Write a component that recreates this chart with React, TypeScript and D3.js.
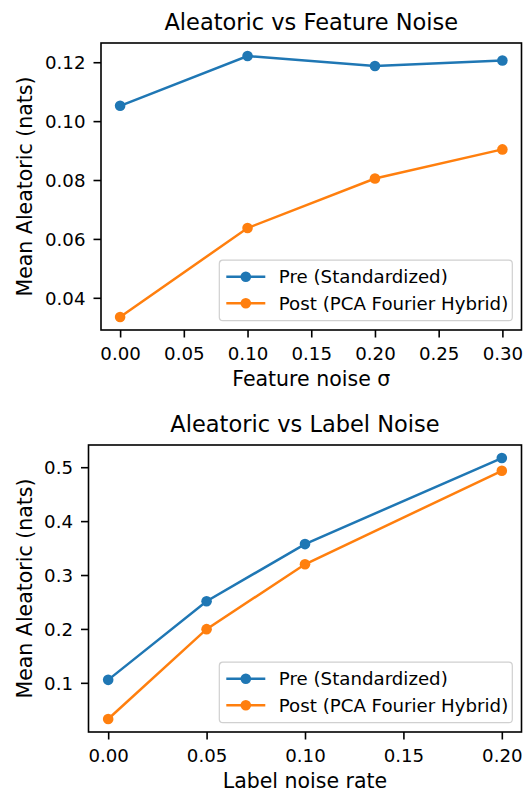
import React, { useEffect, useRef } from "react";
import * as d3 from "d3";

// Feature-noise sweep
const featureNoise = [0, 0.1, 0.2, 0.3];
const featurePre = [0.1052, 0.1221, 0.1187, 0.1206];
const featurePost = [0.0335, 0.0637, 0.0805, 0.0904];
const featureXTicks = [0, 0.05, 0.1, 0.15, 0.2, 0.25, 0.3];
const featureYTicks = [0.04, 0.06, 0.08, 0.1, 0.12];

// Label-noise sweep
const labelNoise = [0, 0.05, 0.1, 0.2];
const labelPre = [0.1055, 0.2514, 0.3574, 0.517];
const labelPost = [0.033, 0.1996, 0.3199, 0.4933];
const labelXTicks = [0, 0.05, 0.1, 0.15, 0.2];
const labelYTicks = [0.1, 0.2, 0.3, 0.4, 0.5];

const seriesNames = ["Pre (Standardized)", "Post (PCA Fourier Hybrid)"];
const seriesColors = ["#1f77b4", "#ff7f0e"];

const FONT = "DejaVu Sans, sans-serif";
const TICK_FS = 18.2;
const LABEL_FS = 20.5;
const TITLE_FS = 22.5;

type PanelSpec = {
  title: string;
  xLabel: string;
  x: number[];
  series: number[][];
  xTicks: number[];
  yTicks: number[];
  xFmt: string;
  yFmt: string;
  box: { left: number; right: number; top: number; bottom: number };
};

const panels: PanelSpec[] = [
  {
    title: "Aleatoric vs Feature Noise",
    xLabel: "Feature noise σ",
    x: featureNoise,
    series: [featurePre, featurePost],
    xTicks: featureXTicks,
    yTicks: featureYTicks,
    xFmt: ".2f",
    yFmt: ".2f",
    box: { left: 101, right: 521.5, top: 43, bottom: 330 },
  },
  {
    title: "Aleatoric vs Label Noise",
    xLabel: "Label noise rate",
    x: labelNoise,
    series: [labelPre, labelPost],
    xTicks: labelXTicks,
    yTicks: labelYTicks,
    xFmt: ".2f",
    yFmt: ".1f",
    box: { left: 88.5, right: 521.5, top: 445, bottom: 732 },
  },
];

// matplotlib-style 5% autoscale margin
function padded(ext: [number, number], frac = 0.05): [number, number] {
  const span = ext[1] - ext[0];
  return [ext[0] - span * frac, ext[1] + span * frac];
}

function drawPanel(svg: d3.Selection<SVGSVGElement, unknown, null, undefined>, p: PanelSpec) {
  const { left, right, top, bottom } = p.box;
  const xDom = padded(d3.extent(p.x) as [number, number]);
  const allY = p.series.flat();
  const yDom = padded(d3.extent(allY) as [number, number]);
  const x = d3.scaleLinear().domain(xDom).range([left, right]);
  const y = d3.scaleLinear().domain(yDom).range([bottom, top]);

  const g = svg.append("g");

  // series lines + markers
  p.series.forEach((vals, si) => {
    const pts = p.x.map((xv, i) => [xv, vals[i]] as [number, number]);
    const line = d3
      .line<[number, number]>()
      .x((d) => x(d[0]))
      .y((d) => y(d[1]));
    g.append("path")
      .attr("d", line(pts) || "")
      .attr("fill", "none")
      .attr("stroke", seriesColors[si])
      .attr("stroke-width", 2.5);
    g.selectAll(null)
      .data(pts)
      .enter()
      .append("circle")
      .attr("cx", (d) => x(d[0]))
      .attr("cy", (d) => y(d[1]))
      .attr("r", 5.3)
      .attr("fill", seriesColors[si]);
  });

  // axes
  const xAxis = d3
    .axisBottom(x)
    .tickValues(p.xTicks)
    .tickFormat(d3.format(p.xFmt) as any)
    .tickSize(7.5)
    .tickPadding(6);
  const yAxis = d3
    .axisLeft(y)
    .tickValues(p.yTicks)
    .tickFormat(d3.format(p.yFmt) as any)
    .tickSize(7.5)
    .tickPadding(8);

  const gx = g.append("g").attr("transform", `translate(0,${bottom})`).call(xAxis);
  const gy = g.append("g").attr("transform", `translate(${left},0)`).call(yAxis);
  [gx, gy].forEach((ax) => {
    ax.select(".domain").remove();
    ax.selectAll(".tick line").attr("stroke", "#000").attr("stroke-width", 1.6);
    ax.selectAll(".tick text")
      .attr("fill", "#000")
      .style("font-family", FONT)
      .style("font-size", `${TICK_FS}px`);
  });
  gx.selectAll(".tick text").attr("dy", "0.93em");
  gy.selectAll(".tick text").attr("dy", "0.36em");

  // frame
  g.append("rect")
    .attr("x", left)
    .attr("y", top)
    .attr("width", right - left)
    .attr("height", bottom - top)
    .attr("fill", "none")
    .attr("stroke", "#000")
    .attr("stroke-width", 1.6);

  // title and axis labels
  g.append("text")
    .attr("x", (left + right) / 2)
    .attr("y", top - 13)
    .attr("text-anchor", "middle")
    .style("font-family", FONT)
    .style("font-size", `${TITLE_FS}px`)
    .text(p.title);
  g.append("text")
    .attr("x", (left + right) / 2)
    .attr("y", bottom + 55.5)
    .attr("text-anchor", "middle")
    .style("font-family", FONT)
    .style("font-size", `${LABEL_FS}px`)
    .text(p.xLabel);
  g.append("text")
    .attr("transform", `translate(31.5,${(top + bottom) / 2}) rotate(-90)`)
    .attr("text-anchor", "middle")
    .style("font-family", FONT)
    .style("font-size", `${LABEL_FS}px`)
    .text("Mean Aleatoric (nats)");

  // legend, lower right
  const lw = 293;
  const lh = 60.5;
  const lx = right - 9.2 - lw;
  const ly = bottom - 9.3 - lh;
  const lg = g.append("g").attr("transform", `translate(${lx},${ly})`);
  lg.append("rect")
    .attr("width", lw)
    .attr("height", lh)
    .attr("rx", 3.5)
    .attr("fill", "#fff")
    .attr("fill-opacity", 0.8)
    .attr("stroke", "#d0d0d0")
    .attr("stroke-width", 1.2);
  seriesNames.forEach((name, i) => {
    const cy = 16.5 + i * 26.6;
    lg.append("line")
      .attr("x1", 7)
      .attr("x2", 46)
      .attr("y1", cy)
      .attr("y2", cy)
      .attr("stroke", seriesColors[i])
      .attr("stroke-width", 2.5);
    lg.append("circle").attr("cx", 26.5).attr("cy", cy).attr("r", 5.3).attr("fill", seriesColors[i]);
    lg.append("text")
      .attr("x", 59.5)
      .attr("y", cy)
      .attr("dy", "0.36em")
      .style("font-family", FONT)
      .style("font-size", `${TICK_FS}px`)
      .text(name);
  });
}

export default function App() {
  const ref = useRef<SVGSVGElement | null>(null);
  useEffect(() => {
    if (!ref.current) return;
    const svg = d3.select(ref.current);
    svg.selectAll("*").remove();
    svg.append("rect").attr("width", 531).attr("height", 793).attr("fill", "#fff");
    panels.forEach((p) => drawPanel(svg, p));
  }, []);
  return (
    <svg
      ref={ref}
      width={531}
      height={793}
      style={{ position: "absolute", left: 0, top: 0, display: "block" }}
    />
  );
}
